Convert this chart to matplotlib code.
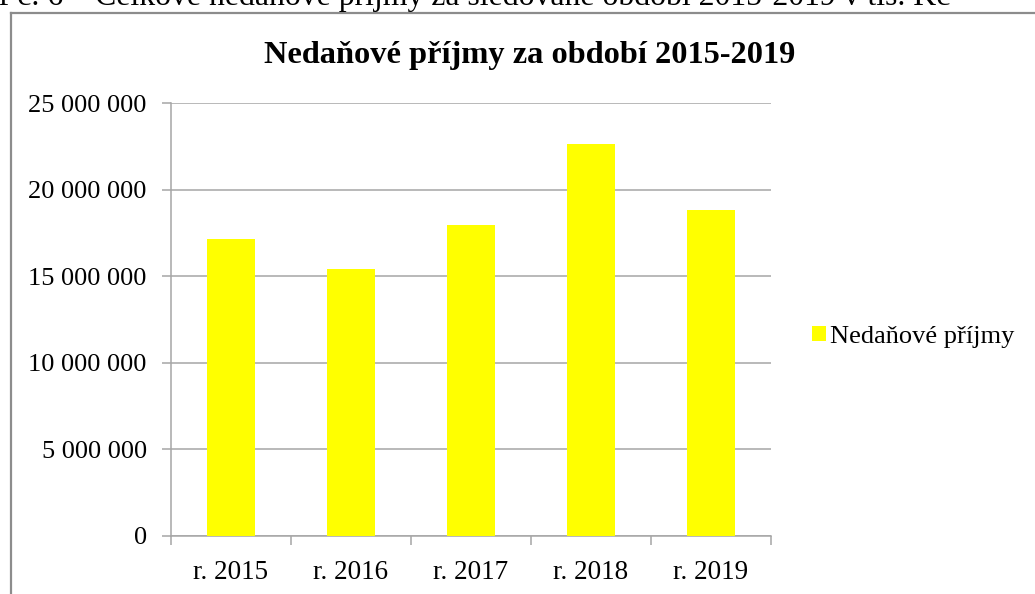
import matplotlib
matplotlib.use("Agg")
import matplotlib.pyplot as plt
from matplotlib.lines import Line2D
from matplotlib.ticker import FuncFormatter, MultipleLocator, FixedLocator

plt.rcParams["font.family"] = ["Liberation Serif", "DejaVu Serif"]

# data (Kč)
years = ["r. 2015", "r. 2016", "r. 2017", "r. 2018", "r. 2019"]
nedanove_prijmy = [17_130_000, 15_420_000, 17_960_000, 22_630_000, 18_820_000]
series_label = "Nedaňové příjmy"
chart_title = "Nedaňové příjmy za období 2015-2019"
caption = "Graf č. 6 – Celkové nedaňové příjmy za sledované období 2015-2019 v tis. Kč"

W, H = 1035, 594
GRID = "#a6a6a6"
BORDER = "#8c8c8c"
YELLOW = "#ffff00"

fig = plt.figure(figsize=(W / 100, H / 100), dpi=100)

# caption of the document, cut by the crop at the top
fig.text(950 / W, 1 - 5 / H, caption, ha="right", va="baseline", fontsize=22.9)

# chart frame (only left and top edges are visible)
fig.add_artist(Line2D([11 / W, 11 / W], [0, 1 - 13 / H], transform=fig.transFigure,
                      color=BORDER, lw=1.6))
fig.add_artist(Line2D([11 / W, 1.0], [1 - 13 / H, 1 - 13 / H], transform=fig.transFigure,
                      color=BORDER, lw=1.6))

ax = fig.add_axes([171 / W, (H - 536) / H, 600 / W, 433 / H])
x = range(len(years))
ax.bar(x, nedanove_prijmy, width=0.4, color=YELLOW, label=series_label, zorder=3)

ax.set_xlim(-0.5, len(years) - 0.5)
ax.set_ylim(0, 25_000_000)
ax.yaxis.set_major_locator(MultipleLocator(5_000_000))
ax.yaxis.set_major_formatter(FuncFormatter(lambda v, p: f"{int(v):,}".replace(",", " ")))
ax.grid(True, axis="y", color=GRID, lw=1.1, zorder=0)

ax.set_xticks(list(x))
ax.set_xticklabels(years)
ax.xaxis.set_minor_locator(FixedLocator([i - 0.5 for i in range(len(years) + 1)]))
ax.tick_params(axis="x", which="major", length=0, pad=17, labelsize=19.5)
ax.tick_params(axis="x", which="minor", length=6.5, width=1.1, color=GRID, direction="out")
ax.tick_params(axis="y", length=6.5, width=1.1, color=GRID, pad=11, labelsize=19)

for side in ("top", "right"):
    ax.spines[side].set_visible(False)
for side in ("left", "bottom"):
    ax.spines[side].set_color(GRID)
    ax.spines[side].set_linewidth(1.1)

fig.text(530 / W, 1 - 56 / H, chart_title, ha="center", va="center",
         fontsize=23.3, fontweight="bold")

fig.legend(loc="center left", bbox_to_anchor=(812 / W, 1 - 337 / H), frameon=False,
           fontsize=19, handlelength=0.53, handleheight=0.53, handletextpad=0.15,
           borderaxespad=0, borderpad=0)

fig.savefig("out.png", dpi=100)
